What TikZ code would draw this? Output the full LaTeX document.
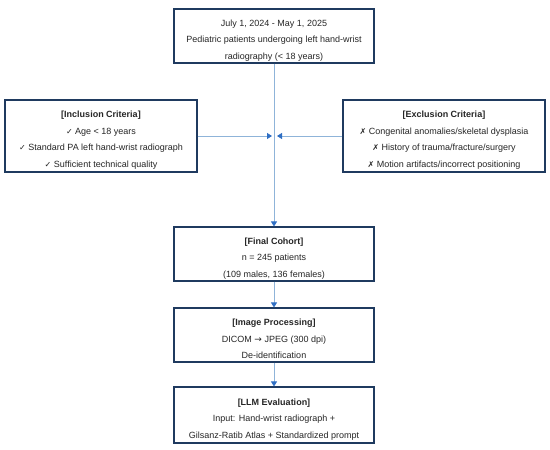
\documentclass[tikz,border=0pt]{standalone}
\usepackage{fontspec}
\setmainfont{Liberation Sans}
\newfontfamily\symf{DejaVu Sans}
\usetikzlibrary{arrows.meta}
\definecolor{boxline}{HTML}{1F3A5F}
\definecolor{conn}{HTML}{8FB4D9}
\definecolor{tipblue}{HTML}{2F6FC4}
\newcommand{\ck}{{\symf\fontsize{8}{16.5}\selectfont ✓}}
\newcommand{\xk}{{\symf\fontsize{8}{16.5}\selectfont ✗}}
\newcommand{\fst}{\rule{0pt}{15pt}}
\begin{document}
\begin{tikzpicture}[x=1pt,y=-1pt,
  box/.style={draw=boxline, line width=1.1pt, fill=white, rectangle, align=center, inner sep=0pt,
    font=\fontsize{9}{16.5}\selectfont, text=black!85},
  conline/.style={draw=conn, line width=0.9pt, -{Triangle[length=5pt,width=6pt,color=tipblue,fill=tipblue]}}]
\useasboundingbox (0,0) rectangle (550,450);
\fill[white] (0,0) rectangle (550,450);
\node[box, minimum width=200pt, minimum height=54pt] (top) at (274,36)
  {\fst July 1, 2024 - May 1, 2025\\Pediatric patients undergoing left hand-wrist\\radiography (< 18 years)};
\node[box, minimum width=192pt, minimum height=72pt] (incl) at (101,136)
  {\fst\textbf{[Inclusion Criteria]}\\\ck{} Age < 18 years\\\ck{} Standard PA left hand-wrist radiograph\\\ck{} Sufficient technical quality};
\node[box, minimum width=202pt, minimum height=72pt] (excl) at (444,136)
  {\fst\textbf{[Exclusion Criteria]}\\\xk{} Congenital anomalies/skeletal dysplasia\\\xk{} History of trauma/fracture/surgery\\\xk{} Motion artifacts/incorrect positioning};
\node[box, minimum width=200pt, minimum height=54pt] (cohort) at (274,254)
  {\fst\textbf{[Final Cohort]}\\n = 245 patients\\(109 males, 136 females)};
\node[box, minimum width=200pt, minimum height=54pt] (proc) at (274,335)
  {\fst\textbf{[Image Processing]}\\DICOM {\symf →} JPEG (300 dpi)\\De-identification};
\node[box, minimum width=200pt, minimum height=56pt] (llm) at (274,415)
  {\fst\textbf{[LLM Evaluation]}\\Input: Hand-wrist radiograph +\\Gilsanz-Ratib Atlas + Standardized prompt};
\coordinate (jl) at (272,136);
\coordinate (jr) at (277,136);
\draw[conline] (top.south) -- (cohort.north);
\draw[conline] (incl.east) -- (jl);
\draw[conline] (excl.west) -- (jr);
\draw[conline] (cohort.south) -- (proc.north);
\draw[conline] (proc.south) -- (llm.north);
\end{tikzpicture}
\end{document}
